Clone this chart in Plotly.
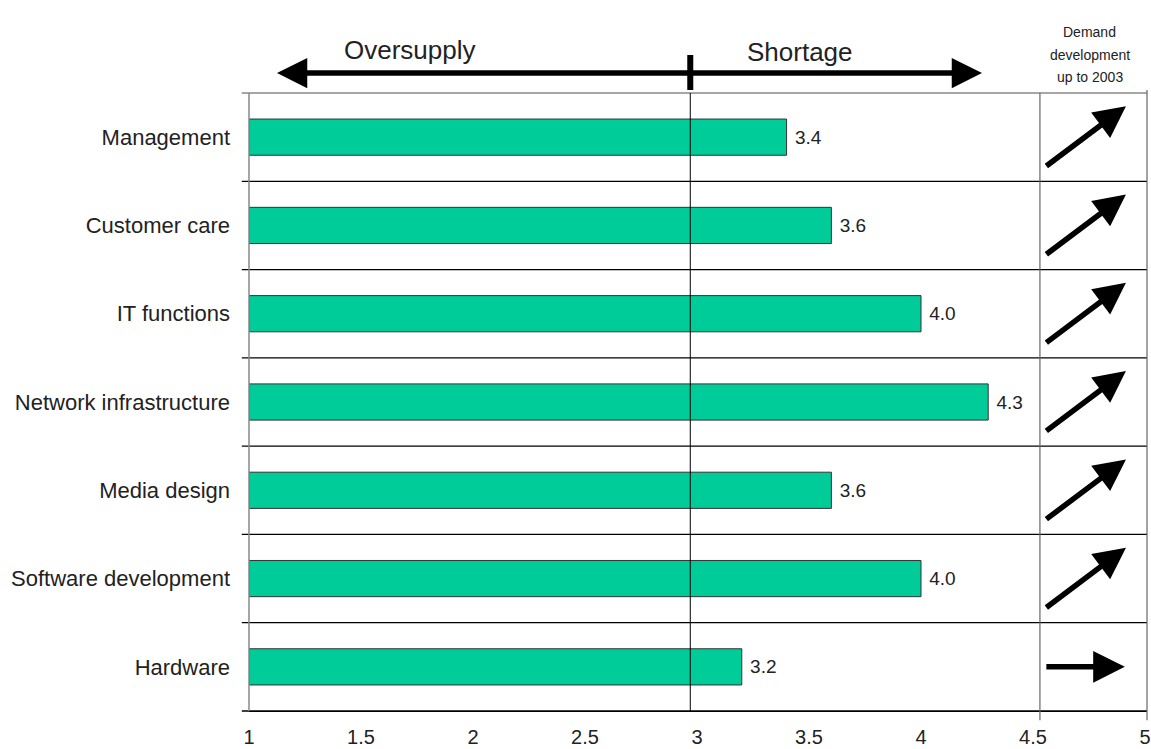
import plotly.graph_objects as go

# Skill-shortage index per job family (1 = oversupply, 5 = shortage)
categories = ["Management", "Customer care", "IT functions", "Network infrastructure",
              "Media design", "Software development", "Hardware"]
shortage_index = [3.4, 3.6, 4.0, 4.3, 3.6, 4.0, 3.2]
# Demand trend up to 2003: "up" = rising, "flat" = stable
demand_trend = ["up", "up", "up", "up", "up", "up", "flat"]
tick_values = [1, 1.5, 2, 2.5, 3, 3.5, 4, 4.5, 5]
tick_labels = ["1", "1.5", "2", "2.5", "3", "3.5", "4", "4.5", "5"]

FONT = "Liberation Sans, Arial, sans-serif"
BAR_COLOR = "#00CC99"
TEXT = "#222222"

X_MIN, X_MAX = 1, 5.009
DIVIDER_X = 2.97      # oversupply / shortage divider
PANEL_X = 4.531       # left edge of the demand-trend panel

# plot-area geometry in pixels, used to place the header texts
PLOT_LEFT, PLOT_TOP, PLOT_BOTTOM = 249, 93, 711
PX_PER_UNIT = 224


def px_to_x(px):
    return X_MIN + (px - PLOT_LEFT) / PX_PER_UNIT


def px_to_paper_y(py):
    return (PLOT_BOTTOM - py) / (PLOT_BOTTOM - PLOT_TOP)


fig = go.Figure()
fig.add_trace(go.Bar(
    y=categories,
    x=[v - X_MIN for v in shortage_index],
    base=X_MIN,
    orientation="h",
    width=0.41,
    marker=dict(color=BAR_COLOR, line=dict(color="#333333", width=1)),
    text=[f" {v:.1f}" for v in shortage_index],
    textposition="outside",
    textfont=dict(family=FONT, size=19, color=TEXT),
    cliponaxis=False,
    hoverinfo="skip",
))

shapes = []
n = len(categories)
# horizontal separators between rows (band edges), with small stubs left of the axis
for k in range(n + 1):
    y = k / n
    color = "#888888" if k == n else "#000000"
    shapes.append(dict(type="line", xref="paper", yref="paper", x0=-0.008, x1=1,
                       y0=y, y1=y, line=dict(color=color, width=1.3)))
# left axis
shapes.append(dict(type="line", xref="paper", yref="paper", x0=0, x1=0, y0=0, y1=1,
                   line=dict(color="#888888", width=1.5)))
# oversupply / shortage divider
shapes.append(dict(type="line", xref="x", yref="paper", x0=DIVIDER_X, x1=DIVIDER_X,
                   y0=0, y1=1, line=dict(color="#000000", width=1)))
# demand panel borders
shapes.append(dict(type="line", xref="x", yref="paper", x0=PANEL_X, x1=PANEL_X,
                   y0=-0.015, y1=1, line=dict(color="#666666", width=1.2)))
shapes.append(dict(type="line", xref="paper", yref="paper", x0=1, x1=1,
                   y0=-0.015, y1=1.005, line=dict(color="#666666", width=1.2)))
# cross bar of the top double arrow
shapes.append(dict(type="line", xref="x", yref="paper", x0=DIVIDER_X, x1=DIVIDER_X,
                   y0=px_to_paper_y(90), y1=px_to_paper_y(55),
                   line=dict(color="#000000", width=6)))

annotations = []
# top double arrow: oversupply to the left, shortage to the right
ARROW_Y = px_to_paper_y(73)
for tip in (px_to_x(277), px_to_x(982)):
    annotations.append(dict(x=tip, y=ARROW_Y, xref="x", yref="paper",
                            ax=DIVIDER_X, ay=0, axref="x", ayref="pixel",
                            showarrow=True, arrowhead=2, arrowsize=1.1,
                            arrowwidth=5.5, arrowcolor="#000000", text=""))
annotations.append(dict(x=px_to_x(410), y=px_to_paper_y(33), xref="x", yref="paper",
                        text="Oversupply", showarrow=False,
                        font=dict(family=FONT, size=26, color=TEXT)))
annotations.append(dict(x=px_to_x(800), y=px_to_paper_y(35), xref="x", yref="paper",
                        text="Shortage", showarrow=False,
                        font=dict(family=FONT, size=26, color=TEXT)))
for txt, yy in (("Demand", 22), ("development", 45), ("up to 2003", 67)):
    annotations.append(dict(x=px_to_x(1090), y=px_to_paper_y(yy), xref="x", yref="paper",
                            text=txt, showarrow=False,
                            font=dict(family=FONT, size=14, color=TEXT)))

# demand-trend arrows, one per row
for i, trend in enumerate(demand_trend):
    if trend == "up":
        tip_x, tip_dy, tail_x, tail_dy = 4.915, -0.35, 4.553, 0.34
    else:
        tip_x, tip_dy, tail_x, tail_dy = 4.91, 0.0, 4.553, 0.0
    annotations.append(dict(x=tip_x, y=i + tip_dy, xref="x", yref="y",
                            ax=tail_x, ay=i + tail_dy, axref="x", ayref="y",
                            showarrow=True, arrowhead=2, arrowsize=1.15,
                            arrowwidth=5.5, arrowcolor="#000000", text=""))

fig.update_layout(
    width=1151, height=749,
    margin=dict(l=249, r=4, t=93, b=38),
    paper_bgcolor="white", plot_bgcolor="white",
    showlegend=False,
    shapes=shapes,
    annotations=annotations,
    xaxis=dict(range=[X_MIN, X_MAX], tickvals=tick_values, ticktext=tick_labels,
               showgrid=False, zeroline=False, showline=True, linecolor="#000000",
               linewidth=1.3, ticks="", ticklabelstandoff=8, automargin=False,
               tickfont=dict(family=FONT, size=20, color=TEXT)),
    yaxis=dict(categoryorder="array", categoryarray=categories,
               range=[n - 0.5, -0.5], autorange=False,
               showgrid=False, zeroline=False, showline=False,
               ticks="", ticklabelstandoff=18, automargin=False,
               tickfont=dict(family=FONT, size=22, color=TEXT)),
)

fig.write_html("out.html")
